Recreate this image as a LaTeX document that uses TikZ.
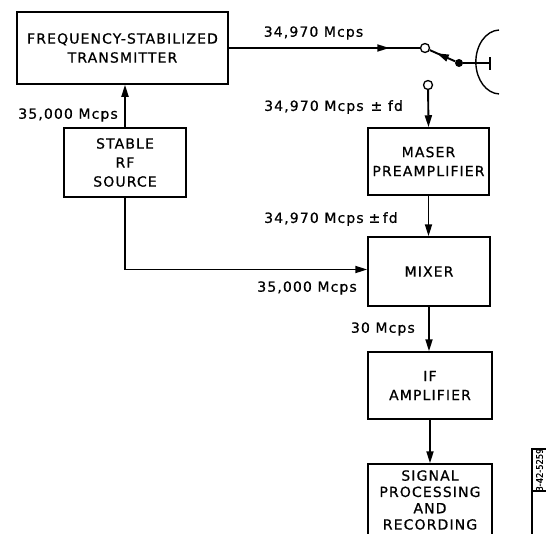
\documentclass[tikz,border=0pt]{standalone}
\usepackage{fontspec}
\setmainfont{DejaVu Sans}
\newfontfamily\lblfont[LetterSpace=8,FakeBold=0.7]{DejaVu Sans}
\newfontfamily\tagfont[FakeBold=0.6]{DejaVu Sans Condensed}
\usetikzlibrary{arrows.meta,decorations.markings}
\tikzset{
  blk/.style={draw, line width=1.5pt, inner sep=0pt, align=center, font=\lblfont\fontsize{14}{19}\selectfont},
  lab/.style={font=\lblfont\fontsize{14}{16}\selectfont, inner sep=0pt},
  wire/.style={line width=1.9pt},
  arr/.style={wire, -{Triangle[length=12pt,width=7pt]}},
  midarr/.style={wire, postaction={decorate}, decoration={markings, mark=at position #1 with {\arrow{Triangle[length=12pt,width=7pt]}}}},
  term/.style={circle, draw, line width=1.3pt, fill=white, minimum size=9pt, inner sep=0pt},
}
\begin{document}
\begin{tikzpicture}[x=1pt,y=-1pt]
\useasboundingbox (0,0) rectangle (546,533);
% blocks
\node[blk, minimum width=211pt, minimum height=72pt] (fst) at (122.5,48) {FREQUENCY-STABILIZED\\TRANSMITTER};
\node[blk, minimum width=122pt, minimum height=69pt] (src) at (125,162.5) {STABLE\\RF\\SOURCE};
\node[blk, minimum width=121pt, minimum height=67pt] (maser) at (428.5,161.5) {MASER\\PREAMPLIFIER};
\node[blk, minimum width=122pt, minimum height=69pt] (mixer) at (429,271.5) {MIXER};
\node[blk, minimum width=124pt, minimum height=67pt] (ifamp) at (430,385.5) {IF\\AMPLIFIER};
\node[blk, minimum width=124pt, minimum height=72pt, font=\lblfont\fontsize{14}{16.3}\selectfont] (sig) at (430,500) {SIGNAL\\PROCESSING\\AND\\RECORDING};
% switch and antenna
\node[term] (t1) at (425,48) {};
\node[term] (t2) at (428,85) {};
\node[circle, fill, minimum size=8pt, inner sep=0pt] (pv) at (459,63) {};
\coordinate (feed) at (490,63);
\coordinate (dishtop) at (499,30);
\draw[midarr=0.84] (fst.east) -- (t1.west);
\draw[midarr=0.72] (pv) -- (t1);
\draw[wire] (pv) -- (feed);
\draw[wire] ([yshift=6pt]feed) -- ([yshift=-7pt]feed);
\draw[line width=1.4pt] (dishtop) arc[start angle=-92, end angle=-268, x radius=24, y radius=32];
% connectors
\draw[arr] (t2) -- (maser.north);
\draw[arr] (src.north) -- (src.north |- fst.south);
\draw[arr] (src.south) |- ([yshift=2pt]mixer.west);
\draw[arr] (maser.south) -- (maser.south |- mixer.north);
\draw[arr] (mixer.south) -- (mixer.south |- ifamp.north);
\draw[arr] (ifamp.south) -- (sig.north);
% labels
\node[lab] (l1) at (313.5,33) {34,970 Mcps};
\node[lab, anchor=east] (l2) at (118,115) {35,000 Mcps};
\node[lab, anchor=west] (l3) at (264,107) {34,970 Mcps\hspace{7pt}± fd};
\node[lab, anchor=west] (l4) at (264,219) {34,970 Mcps\hspace{5pt}±\,fd};
\node[lab, anchor=east] (l5) at (357,288) {35,000 Mcps};
\node[lab, anchor=east] (l6) at (415,329) {30 Mcps};
% drawing number tag
\coordinate (tagtl) at (532,449);
\draw[line width=1.2pt] (532,540) -- (tagtl) -- (550,449);
\draw[line width=1.2pt] (532,491) -- (550,491);
\node[rotate=90, font=\tagfont\fontsize{9.2}{9.2}\selectfont, inner sep=0pt] (tag) at (539.5,470) {3-42-5259};
\end{tikzpicture}
\end{document}
